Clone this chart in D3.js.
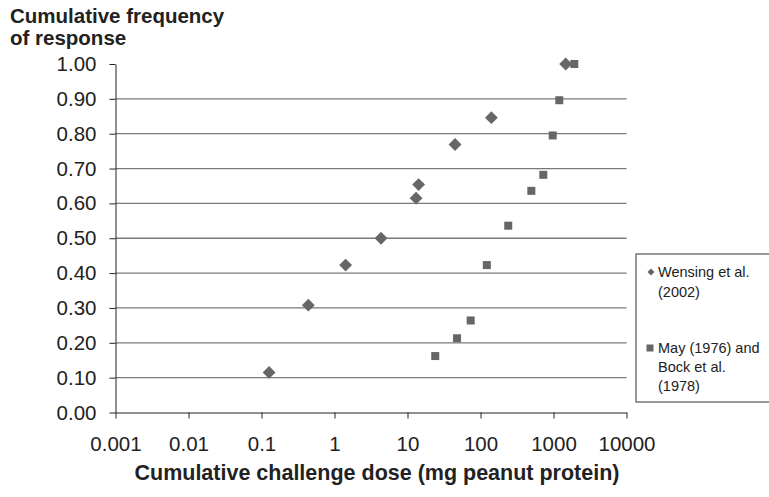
<!DOCTYPE html>
<html><head><meta charset="utf-8">
<script src="https://cdn.jsdelivr.net/npm/d3@7"></script>
<style>body{margin:0;background:#fff;}svg{display:block;font-family:"Liberation Sans",Arial,sans-serif;}</style>
</head><body>
<svg id="c" width="769" height="497"></svg>
<script>
const xTicks = [0.001, 0.01, 0.1, 1, 10, 100, 1000, 10000];
const xTickLabels = ["0.001", "0.01", "0.1", "1", "10", "100", "1000", "10000"];
const yTicks = [0, 0.1, 0.2, 0.3, 0.4, 0.5, 0.6, 0.7, 0.8, 0.9, 1.0];
const wensingDose = [0.127, 0.438, 1.42, 4.34, 13.1, 14.2, 44.8, 141, 1469];
const wensingFreq = [0.115, 0.308, 0.423, 0.5, 0.615, 0.654, 0.769, 0.846, 1.0];
const mayDose = [24, 47.7, 73.4, 122, 240, 497, 725, 975, 1200, 1928];
const mayFreq = [0.162, 0.213, 0.264, 0.423, 0.536, 0.636, 0.682, 0.795, 0.896, 1.0];
const seriesNames = [["Wensing et al.", "(2002)"], ["May (1976) and", "Bock et al.", "(1978)"]];

const svg = d3.select("#c");
const x = d3.scaleLog().domain([0.001, 10000]).range([115.5, 626.5]);
const y = d3.scaleLinear().domain([0, 1]).range([412.5, 64]);
const markColor = "#666666";
const txt = "#222";

// gridlines
svg.append("g").selectAll("line").data(yTicks.filter(d => d > 0 && d < 1)).join("line")
  .attr("x1", x(0.001)).attr("x2", x(10000))
  .attr("y1", d => y(d)).attr("y2", d => y(d))
  .attr("stroke", "#7a7a7a").attr("stroke-width", 1.3);

// y axis
const yAxis = d3.axisLeft(y).tickValues(yTicks).tickFormat(d3.format(".2f")).tickSizeOuter(0).tickSizeInner(6).tickPadding(13);
const gy = svg.append("g").attr("transform", `translate(${x(0.001)},0)`).call(yAxis);
gy.select(".domain").attr("stroke", "#222");
gy.selectAll(".tick line").attr("stroke", "#222");
gy.selectAll("text").attr("font-size", 20.5).attr("fill", txt).attr("font-family", "Liberation Sans, Arial, sans-serif");

// x axis
const xAxis = d3.axisBottom(x).tickValues(xTicks).tickFormat((d, i) => xTickLabels[i]).tickSizeOuter(0).tickSizeInner(6).tickPadding(18);
const gx = svg.append("g").attr("transform", `translate(0,${y(0)})`).call(xAxis);
gx.select(".domain").attr("stroke", "#222");
gx.selectAll(".tick line").attr("stroke", "#222");
gx.selectAll("text").attr("font-size", 20.5).attr("fill", txt).attr("font-family", "Liberation Sans, Arial, sans-serif");

// titles
svg.append("text").attr("x", 10).attr("y", 23).attr("font-size", 20.5).attr("font-weight", "bold").attr("fill", txt).text("Cumulative frequency");
svg.append("text").attr("x", 10).attr("y", 45).attr("font-size", 20.5).attr("font-weight", "bold").attr("fill", txt).text("of response");
svg.append("text").attr("x", 377).attr("y", 480).attr("text-anchor", "middle")
  .attr("font-size", 21.5).attr("font-weight", "bold").attr("fill", txt)
  .text("Cumulative challenge dose (mg peanut protein)");

// points
const wensing = wensingDose.map((d, i) => ({dose: d, freq: wensingFreq[i]}));
const may = mayDose.map((d, i) => ({dose: d, freq: mayFreq[i]}));
svg.append("g").selectAll("rect").data(may).join("rect")
  .attr("x", d => x(d.dose) - 4).attr("y", d => y(d.freq) - 4)
  .attr("width", 8).attr("height", 8).attr("fill", markColor);
const diamond = d3.symbol().type(d3.symbolDiamond2).size(105);
svg.append("g").selectAll("path").data(wensing).join("path")
  .attr("d", diamond)
  .attr("transform", d => `translate(${x(d.dose)},${y(d.freq)})`)
  .attr("fill", markColor);

// legend
const lg = svg.append("g");
lg.append("rect").attr("x", 636).attr("y", 254).attr("width", 160).attr("height", 148)
  .attr("fill", "#fff").attr("stroke", "#333").attr("stroke-width", 1);
lg.append("path").attr("d", d3.symbol().type(d3.symbolDiamond2).size(32))
  .attr("transform", "translate(651,272)").attr("fill", markColor);
lg.append("rect").attr("x", 646.5).attr("y", 344.5).attr("width", 7).attr("height", 7).attr("fill", markColor);
const lt1 = lg.append("text").attr("font-size", 14.5).attr("fill", txt);
seriesNames[0].forEach((s, i) => lt1.append("tspan").attr("x", 658).attr("y", 277 + i * 20).text(s));
const lt2 = lg.append("text").attr("font-size", 14.5).attr("fill", txt);
seriesNames[1].forEach((s, i) => lt2.append("tspan").attr("x", 658).attr("y", 353 + i * 19).text(s));
</script>
</body></html>
